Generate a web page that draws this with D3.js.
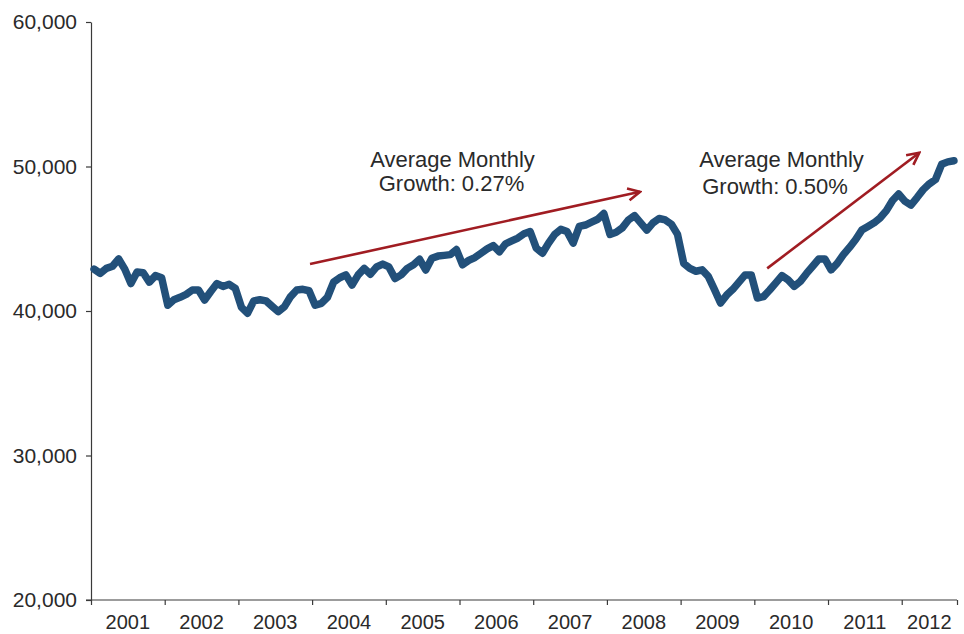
<!DOCTYPE html>
<html>
<head>
<meta charset="utf-8">
<script src="https://cdn.jsdelivr.net/npm/d3@7"></script>
<style>
  html, body { margin: 0; padding: 0; background: #fff; }
  svg { display: block; }
  text { font-family: "Liberation Sans", Arial, Helvetica, sans-serif; }
</style>
</head>
<body>
<svg id="chart" width="964" height="634"></svg>
<script>
// Monthly values, Jan 2001 – Sep 2012
const years = ["2001","2002","2003","2004","2005","2006","2007","2008","2009","2010","2011","2012"];
const values = [
  // 2001
  42900, 42600, 42950, 43100, 43600, 42900, 41900, 42700, 42650, 42000, 42450, 42300,
  // 2002
  40400, 40780, 40950, 41150, 41450, 41450, 40760, 41350, 41900, 41700, 41850, 41570,
  // 2003
  40250, 39850, 40700, 40780, 40700, 40320, 39950, 40300, 41000, 41450, 41500, 41400,
  // 2004
  40400, 40530, 40950, 42000, 42300, 42500, 41800, 42500, 42950, 42550, 43050, 43250,
  // 2005
  43050, 42250, 42500, 42950, 43200, 43580, 42840, 43650, 43800, 43850, 43900, 44250,
  // 2006
  43200, 43500, 43700, 44000, 44300, 44520, 44100, 44650, 44850, 45050, 45350, 45500,
  // 2007
  44350, 44000, 44700, 45300, 45650, 45500, 44700, 45850, 45950, 46150, 46350, 46750,
  // 2008
  45300, 45450, 45750, 46300, 46600, 46100, 45600, 46100, 46400, 46300, 46000, 45300,
  // 2009
  43300, 42950, 42750, 42850, 42400, 41500, 40550, 41100, 41500, 42000, 42500, 42500,
  // 2010
  40900, 41000, 41450, 41950, 42450, 42150, 41700, 42050, 42600, 43100, 43600, 43600,
  // 2011
  42850, 43300, 43900, 44400, 44950, 45600, 45850, 46100, 46450, 46950, 47650, 48100,
  // 2012
  47600, 47330, 47850, 48400, 48800, 49100, 50150, 50320, 50400
];
const yTicks = [20000, 30000, 40000, 50000, 60000];

// Annotations: arrow [monthIndex, value] start/end, text lines
const annotations = [
  { from: [35.66, 43250], to: [89.39, 48250], lines: ["Average Monthly", "Growth: 0.27%"] },
  { from: [110.1, 42950], to: [134.86, 50950], lines: ["Average Monthly", "Growth: 0.50%"] }
];

const svg = d3.select("#chart");
const x = d3.scaleLinear().domain([0, values.length]).range([91, 957]);
const y = d3.scaleLinear().domain([20000, 60000]).range([600, 22]);

const axisColor = "#3a3a3a";
const textColor = "#2a2a2a";

// Y axis
const yAxis = svg.append("g")
  .attr("transform", "translate(91,0)")
  .call(d3.axisLeft(y).tickValues(yTicks).tickSize(5).tickSizeOuter(0).tickPadding(9)
    .tickFormat(d3.format(",")));
yAxis.select(".domain").attr("stroke", axisColor).attr("stroke-width", 1.2);
yAxis.selectAll(".tick line").attr("stroke", axisColor).attr("stroke-width", 1.2);
yAxis.selectAll(".tick text").attr("fill", textColor).style("font-size", "21px")
  .style("font-family", "'Liberation Sans', Arial, sans-serif");

// X axis (year boundaries)
const n = values.length;
const boundaries = d3.range(0, years.length).map(k => k * 12).concat([n]);
const xAxis = svg.append("g")
  .attr("transform", "translate(0,600)")
  .call(d3.axisBottom(x).tickValues(boundaries).tickSize(5).tickSizeOuter(0).tickFormat(""));
xAxis.select(".domain").attr("stroke", axisColor).attr("stroke-width", 1.2)
  .attr("d", `M${x(0) - 5},0H${x(n)}`);
xAxis.selectAll(".tick line").attr("stroke", axisColor).attr("stroke-width", 1.2);

svg.append("g").selectAll("text")
  .data(years)
  .join("text")
  .attr("x", (d, k) => (x(k * 12) + x(Math.min(k * 12 + 12, n))) / 2)
  .attr("y", 629)
  .attr("text-anchor", "middle")
  .attr("fill", textColor)
  .style("font-size", "20px")
  .text(d => d);

// Line
const line = d3.line()
  .x((d, i) => x(i + 0.5))
  .y(d => y(d));
svg.append("path")
  .datum(values)
  .attr("fill", "none")
  .attr("stroke", "#22507a")
  .attr("stroke-width", 7.5)
  .attr("stroke-linejoin", "round")
  .attr("stroke-linecap", "round")
  .attr("d", line);

// Arrow marker
svg.append("defs").append("marker")
  .attr("id", "arrowhead")
  .attr("viewBox", "-14 -8 16 16")
  .attr("refX", 0).attr("refY", 0)
  .attr("markerWidth", 16).attr("markerHeight", 16)
  .attr("markerUnits", "userSpaceOnUse")
  .attr("orient", "auto")
  .append("path")
  .attr("d", "M-12,-6L0,0L-12,6")
  .attr("fill", "none")
  .attr("stroke", "#a01c22")
  .attr("stroke-width", 2.6)
  .attr("stroke-linejoin", "miter");

svg.append("g").selectAll("line")
  .data(annotations)
  .join("line")
  .attr("x1", d => x(d.from[0])).attr("y1", d => y(d.from[1]))
  .attr("x2", d => x(d.to[0])).attr("y2", d => y(d.to[1]))
  .attr("stroke", "#a01c22")
  .attr("stroke-width", 2.6)
  .attr("marker-end", "url(#arrowhead)");

// Annotation text
const textPos = [
  [{ x: 452.5, y: 166.5 }, { x: 451.5, y: 190.5 }],
  [{ x: 781.5, y: 167 }, { x: 775, y: 193.5 }]
];
annotations.forEach((a, k) => {
  a.lines.forEach((t, j) => {
    svg.append("text")
      .attr("x", textPos[k][j].x)
      .attr("y", textPos[k][j].y)
      .attr("text-anchor", "middle")
      .attr("fill", textColor)
      .style("font-size", "22px")
      .text(t);
  });
});
</script>
</body>
</html>
